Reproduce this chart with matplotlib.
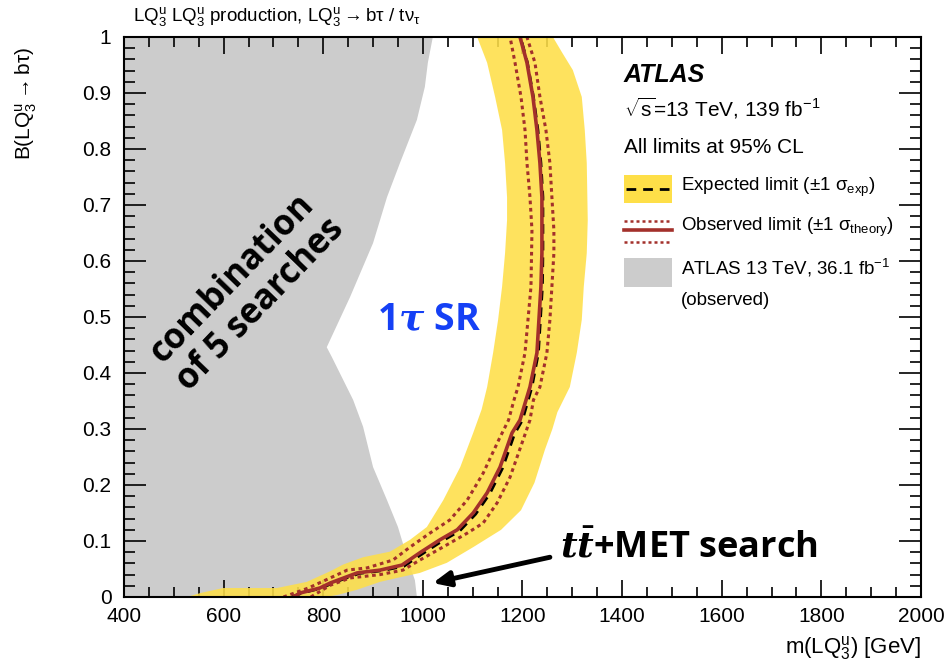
import matplotlib
matplotlib.use('Agg')
import matplotlib.pyplot as plt
from matplotlib.patches import Rectangle, Polygon
from matplotlib.lines import Line2D
from matplotlib.ticker import MultipleLocator, FuncFormatter
from matplotlib.mathtext import MathTextParser

# ---- data (mass in GeV, branching ratio) ----
# previous ATLAS 36.1 fb-1 observed exclusion (left of this boundary)
gray_m = [988, 984, 970, 950, 928, 900, 880, 860, 817, 807, 854, 900, 928, 954, 988, 1004, 1010, 1020]
gray_y = [0.0, 0.03, 0.066, 0.125, 0.173, 0.232, 0.304, 0.352, 0.429, 0.446, 0.536, 0.632, 0.714, 0.775, 0.852, 0.911, 0.954, 1.0]

# +-1 sigma expected band: outer edge (top -> bottom) then inner edge (bottom -> top)
band_out_m = [1261, 1279, 1301, 1319, 1325, 1329, 1331, 1329, 1323, 1319, 1309, 1295, 1270, 1260, 1245, 1224, 1197, 1157, 1101, 1048, 994, 948, 914, 868, 830, 805]
band_out_y = [1.0, 0.973, 0.941, 0.893, 0.834, 0.775, 0.673, 0.614, 0.554, 0.495, 0.436, 0.375, 0.330, 0.300, 0.263, 0.204, 0.155, 0.120, 0.089, 0.061, 0.043, 0.034, 0.027, 0.013, 0.004, 0.0]
band_in_m = [526, 553, 599, 647, 707, 767, 814, 840, 880, 934, 974, 1008, 1041, 1075, 1101, 1118, 1129, 1141, 1151, 1159, 1165, 1169, 1169, 1165, 1159, 1145, 1129, 1109]
band_in_y = [0.0, 0.007, 0.016, 0.016, 0.016, 0.027, 0.046, 0.058, 0.071, 0.081, 0.102, 0.125, 0.173, 0.232, 0.293, 0.335, 0.375, 0.436, 0.495, 0.554, 0.614, 0.673, 0.714, 0.775, 0.834, 0.893, 0.954, 1.0]

# expected limit
exp_m = [737, 757, 797, 819, 872, 918, 962, 999, 1039, 1074, 1106, 1134, 1160, 1184, 1200, 1219, 1232, 1236, 1240, 1241, 1241, 1241, 1237, 1231, 1222, 1210, 1196]
exp_y = [0.0, 0.007, 0.016, 0.025, 0.042, 0.047, 0.055, 0.077, 0.100, 0.118, 0.148, 0.184, 0.230, 0.291, 0.316, 0.375, 0.436, 0.495, 0.554, 0.614, 0.673, 0.714, 0.775, 0.834, 0.893, 0.954, 1.0]

# observed limit and its +-1 sigma theory variations
obs_m = [740, 753, 793, 814, 868, 914, 958, 994, 1034, 1069, 1101, 1129, 1155, 1179, 1195, 1215, 1229, 1233, 1237, 1239, 1239, 1239, 1235, 1229, 1221, 1209, 1195]
obs_y = [0.0, 0.007, 0.016, 0.025, 0.043, 0.048, 0.057, 0.079, 0.102, 0.120, 0.150, 0.186, 0.232, 0.293, 0.316, 0.375, 0.436, 0.495, 0.554, 0.614, 0.673, 0.714, 0.775, 0.834, 0.893, 0.954, 1.0]

obs_up_m = [720, 770, 814, 848, 888, 940, 974, 1014, 1054, 1089, 1121, 1152, 1172, 1183, 1191, 1205, 1211, 1217, 1219, 1215, 1209, 1205, 1197, 1185, 1175]
obs_up_y = [0.0, 0.016, 0.034, 0.048, 0.052, 0.066, 0.089, 0.114, 0.1375, 0.173, 0.221, 0.280, 0.316, 0.352, 0.375, 0.436, 0.495, 0.554, 0.655, 0.714, 0.775, 0.834, 0.893, 0.954, 1.0]

obs_dn_m = [775, 814, 854, 914, 960, 994, 1040, 1089, 1121, 1149, 1175, 1201, 1215, 1222, 1235, 1249, 1255, 1259, 1263, 1263, 1259, 1255, 1247, 1235, 1225, 1209]
obs_dn_y = [0.0, 0.021, 0.034, 0.040, 0.048, 0.066, 0.089, 0.114, 0.132, 0.168, 0.214, 0.280, 0.316, 0.352, 0.375, 0.436, 0.495, 0.554, 0.614, 0.655, 0.714, 0.775, 0.834, 0.893, 0.954, 1.0]

x_ticks = [400, 600, 800, 1000, 1200, 1400, 1600, 1800, 2000]

yellow = '#fedf48'
gray = '#cccccc'
red = '#a3302b'

plt.rcParams['font.family'] = ['Liberation Sans', 'DejaVu Sans']
plt.rcParams['mathtext.fontset'] = 'custom'
plt.rcParams['mathtext.rm'] = 'Liberation Sans'
plt.rcParams['mathtext.it'] = 'Liberation Sans:italic'
plt.rcParams['mathtext.bf'] = 'Liberation Sans:bold'


def bold_math(s, fallback):
    # \boldsymbol only exists in newer matplotlib
    try:
        MathTextParser('path').parse(s)
        return s
    except Exception:
        return fallback


fig = plt.figure(figsize=(9.49, 6.70), dpi=100)
ax = fig.add_axes([124 / 949, 73 / 670, 797 / 949, 560 / 670])

# previous result
ax.add_patch(Polygon([(400, 0)] + list(zip(gray_m, gray_y)) + [(400, 1)],
                     closed=True, facecolor=gray, edgecolor='none', zorder=1))

# expected band
band = list(zip(band_out_m, band_out_y)) + list(zip(band_in_m, band_in_y))
ax.add_patch(Polygon(band, closed=True, facecolor=yellow, edgecolor='none', alpha=0.88, zorder=2))

dots = (0, (1.2, 1.2))
ax.plot(exp_m, exp_y, color='black', lw=2.0, ls=(0, (3.5, 2.5)), zorder=3)
ax.plot(obs_up_m, obs_up_y, color=red, lw=2.2, ls=dots, zorder=4)
ax.plot(obs_dn_m, obs_dn_y, color=red, lw=2.2, ls=dots, zorder=4)
ax.plot(obs_m, obs_y, color=red, lw=2.6, zorder=5, solid_capstyle='butt')

ax.set_xlim(400, 2000)
ax.set_ylim(0, 1)
ax.set_xticks(x_ticks)
ax.xaxis.set_minor_locator(MultipleLocator(50))
ax.yaxis.set_major_locator(MultipleLocator(0.1))
ax.yaxis.set_minor_locator(MultipleLocator(0.02))
ax.yaxis.set_major_formatter(FuncFormatter(lambda v, p: '%g' % round(v, 2)))
ax.tick_params(axis='both', which='both', direction='in', top=True, right=True, width=1.2)
ax.tick_params(axis='x', which='major', length=12, labelsize=15, pad=7)
ax.tick_params(axis='x', which='minor', length=7)
ax.tick_params(axis='y', which='major', length=16, labelsize=15, pad=9)
ax.tick_params(axis='y', which='minor', length=8)
for s in ax.spines.values():
    s.set_linewidth(1.5)
    s.set_zorder(10)

ax.set_xlabel(r'm(LQ$_{3}^{\mathrm{u}}$) [GeV]', fontsize=16, loc='right', labelpad=6)
ax.set_ylabel(r'B(LQ$_{3}^{\mathrm{u}}\rightarrow$bτ)', fontsize=15, loc='top')
ax.yaxis.set_label_coords(-0.107, 0.982)

fig.text(133 / 949, 1 - 16 / 670,
         r'LQ$_{3}^{\mathrm{u}}$ LQ$_{3}^{\mathrm{u}}$ production, LQ$_{3}^{\mathrm{u}}\rightarrow$bτ / tν$_{\mathrm{\tau}}$',
         fontsize=13.5, ha='left', va='center')

# ATLAS label and legend, drawn by hand in axes coordinates
tr = ax.transAxes
ax.text(0.627, 0.932, 'ATLAS', transform=tr, fontsize=18, fontweight='bold', fontstyle='italic', va='center')
ax.text(0.627, 0.873, r'$\sqrt{\mathrm{s}}$=13 TeV, 139 fb$^{\mathrm{-1}}$', transform=tr, fontsize=15, va='center')
ax.text(0.627, 0.802, 'All limits at 95% CL', transform=tr, fontsize=15, va='center')

ax.add_patch(Rectangle((0.627, 0.704), 0.060, 0.050, transform=tr, facecolor=yellow, edgecolor='none', zorder=6))
ax.add_line(Line2D([0.630, 0.684], [0.729, 0.729], transform=tr, color='black', lw=2.0, ls=(0, (3.5, 2.5)), zorder=7))
ax.text(0.699, 0.731, r'Expected limit (±1 $\mathrm{\sigma}_{\mathrm{exp}}$)', transform=tr, fontsize=13.5, va='center')

ax.add_line(Line2D([0.627, 0.687], [0.671, 0.671], transform=tr, color=red, lw=1.8, ls=dots, zorder=7))
ax.add_line(Line2D([0.627, 0.687], [0.655, 0.655], transform=tr, color=red, lw=2.6, zorder=7))
ax.add_line(Line2D([0.627, 0.687], [0.634, 0.634], transform=tr, color=red, lw=1.8, ls=dots, zorder=7))
ax.text(0.699, 0.660, r'Observed limit (±1 $\mathrm{\sigma}_{\mathrm{theory}}$)', transform=tr, fontsize=13.5, va='center')

ax.add_patch(Rectangle((0.627, 0.554), 0.060, 0.051, transform=tr, facecolor=gray, edgecolor='none', zorder=6))
ax.text(0.699, 0.5875, r'ATLAS 13 TeV, 36.1 fb$^{\mathrm{-1}}$', transform=tr, fontsize=13.5, va='center')
ax.text(0.699, 0.530, '(observed)', transform=tr, fontsize=13.5, va='center')

# annotations
ax.text(646, 0.545, 'combination\nof 5 searches', fontsize=25, fontweight='bold', family='Open Sans',
        rotation=46, rotation_mode='anchor', ha='center', va='center', linespacing=1.1, zorder=8)

tau = bold_math(r'$\boldsymbol{\tau}$', r'$\tau$')
ax.text(1012, 0.495, '1' + tau + ' SR', fontsize=27, fontweight='bold', family='Open Sans',
        color='#1540f5', math_fontfamily='dejavuserif', ha='center', va='center', zorder=8)

ttbar = bold_math(r'$\boldsymbol{t}\bar{\boldsymbol{t}}$', r'$t\bar{t}$')
ax.text(1275, 0.0875, ttbar + '+MET search', fontsize=26, fontweight='bold', family='Open Sans',
        math_fontfamily='dejavuserif', ha='left', va='center', zorder=8)
ax.annotate('', xy=(1020, 0.025), xytext=(1255, 0.071),
            arrowprops=dict(arrowstyle='-|>,head_length=1.0,head_width=0.45', color='black', lw=3.5,
                            shrinkA=0, shrinkB=0), zorder=8)

fig.savefig('out.png', dpi=100)
